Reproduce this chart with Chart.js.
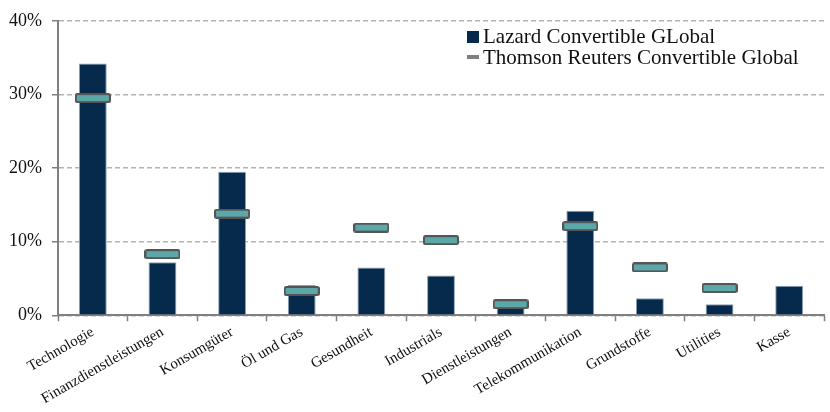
<!DOCTYPE html>
<html>
<head>
<meta charset="utf-8">
<script src="https://cdn.jsdelivr.net/npm/chart.js@4.4.1/dist/chart.umd.min.js"></script>
<style>
html,body{margin:0;padding:0;background:#fff;}
#wrap{position:relative;width:830px;height:412px;}
#legend{position:absolute;left:467px;top:26px;font-family:"Liberation Serif",serif;font-size:21px;color:#111;line-height:21px;}
#legend .sq{display:inline-block;width:12px;height:12px;background:#062a4b;margin-right:4px;vertical-align:0px;}
#legend .ds{display:inline-block;width:12px;height:4px;background:#7f7f7f;margin-right:4px;vertical-align:5px;}
</style>
</head>
<body>
<div id="wrap">
<canvas id="chart" width="830" height="412"></canvas>
<div id="legend">
<div><span class="sq"></span>Lazard Convertible GLobal</div>
<div><span class="ds"></span>Thomson Reuters Convertible Global</div>
</div>
</div>
<script>
/* ---------- DATA ---------- */

const categories = ["Technologie","Finanzdienstleistungen","Konsumgüter","Öl und Gas","Gesundheit","Industrials","Dienstleistungen","Telekommunikation","Grundstoffe","Utilities","Kasse"];
const lazard = [34.2,7.2,19.5,4.1,6.5,5.4,1.2,14.2,2.3,1.5,4.0];
const thomson = [29.5,8.3,13.8,3.3,11.9,10.2,1.5,12.1,6.5,3.7,null];
const yTicks = [0,10,20,30,40];

/* ---------- MARKER IMAGE ---------- */

function makeMarker(){
const c = document.createElement("canvas");
c.width = 36;
c.height = 10;
const g = c.getContext("2d");
g.fillStyle = "#5ca8a9";
g.strokeStyle = "#555";
g.lineWidth = 2;
g.beginPath();
g.roundRect(1,1,34,8,1.5);
g.fill();
g.stroke();
return c;
}

const marker = makeMarker();
const serif = "'Liberation Serif', 'Times New Roman', serif";

/* ---------- CHART ---------- */

new Chart(document.getElementById("chart").getContext("2d"),{
type:"bar",
data:{
labels:categories,
datasets:[
{
type:"line",
label:"Thomson Reuters Convertible Global",
data:thomson,
showLine:false,
pointStyle:marker,
pointRadius:5,
pointHoverRadius:5,
order:0
},
{
label:"Lazard Convertible GLobal",
data:lazard,
backgroundColor:"#062a4b",
borderColor:"#8aa0b4",
borderWidth:{top:1,left:1,right:1,bottom:0},
barPercentage:0.4,
categoryPercentage:1,
order:1
}
]
},
options:{
responsive:false,
animation:false,
layout:{padding:{top:14,right:2,left:0,bottom:2}},
plugins:{
legend:{display:false},
tooltip:{enabled:false}
},
scales:{
x:{
offset:true,
grid:{
offset:true,
drawOnChartArea:false,
drawTicks:true,
tickLength:6,
tickColor:"#808080",
tickWidth:1.5
},
border:{color:"#808080",width:2},
ticks:{
color:"#111",
font:{family:serif,size:15},
minRotation:30,
maxRotation:30,
padding:2
}
},
y:{
min:0,
max:40,
afterBuildTicks:function(axis){
axis.ticks = yTicks.map(v => ({value:v}));
},
afterFit:function(axis){
axis.width = 58;
},
grid:{
color:"#b3b3b3",
lineWidth:1.5,
drawTicks:true,
tickLength:6,
tickColor:"#808080",
tickWidth:1.5
},
border:{color:"#808080",width:2,dash:[5,3]},
ticks:{
color:"#111",
font:{family:serif,size:18},
padding:10,
callback:function(v){ return v + "%"; }
}
}
}
}
});
</script>
</body>
</html>
